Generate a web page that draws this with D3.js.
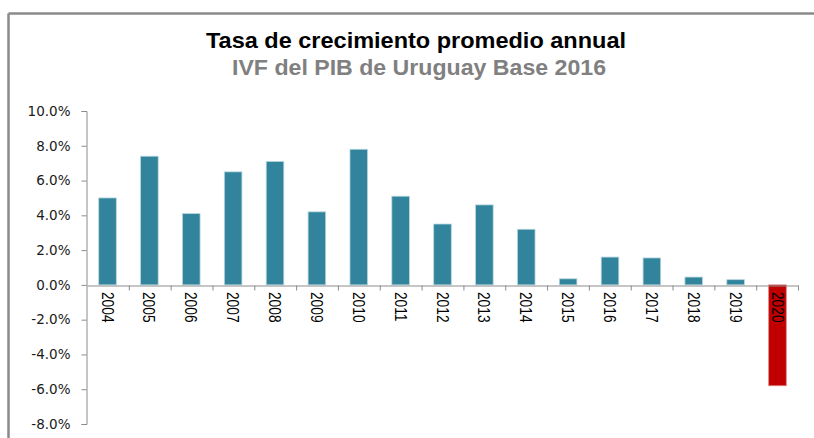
<!DOCTYPE html>
<html>
<head>
<meta charset="utf-8">
<script src="https://cdn.jsdelivr.net/npm/d3@7"></script>
<style>
  body { margin: 0; background: #fff; }
  .y-axis text { font-family: "DejaVu Sans", Verdana, sans-serif; font-size: 13.5px; fill: #1a1a1a; }
  .axis path, .axis line { stroke: #8c8c8c; }
  .year-label { font-family: "Liberation Sans", Arial, sans-serif; font-size: 15px; fill: #000; }
</style>
</head>
<body>
<div id="chart"></div>
<script>
// data
let years = ["2004","2005","2006","2007","2008","2009","2010","2011","2012",
             "2013","2014","2015","2016","2017","2018","2019","2020"];
let growth = [5.0, 7.4, 4.1, 6.5, 7.1, 4.2, 7.8, 5.1, 3.5,
              4.6, 3.2, 0.35, 1.6, 1.55, 0.45, 0.3, -5.8];
let yTicks = [-8, -6, -4, -2, 0, 2, 4, 6, 8, 10];
let title = "Tasa de crecimiento promedio annual";
let subtitle = "IVF del PIB de Uruguay Base 2016";

(function() {
  let width = 814, height = 438;
  // plot area
  let left = 87, right = 798, top = 111, bottom = 424;

  let svg = d3.select("#chart").append("svg")
      .attr("width", width)
      .attr("height", height);

  // outer frame (only top and left show)
  svg.append("line")
    .attr("x1", 8.5).attr("x2", width).attr("y1", 13.5).attr("y2", 13.5)
    .attr("stroke", "#8a8a8a").attr("stroke-width", 2.5);
  svg.append("line")
    .attr("x1", 8.5).attr("x2", 8.5).attr("y1", 13.5).attr("y2", height)
    .attr("stroke", "#8a8a8a").attr("stroke-width", 2.5);

  // titles
  svg.append("text")
    .attr("x", 416).attr("y", 48)
    .attr("text-anchor", "middle")
    .attr("textLength", 420).attr("lengthAdjust", "spacingAndGlyphs")
    .style("font-family", "'Liberation Sans', Arial, sans-serif")
    .style("font-weight", "bold").style("font-size", "22px")
    .attr("fill", "#000")
    .text(title);
  svg.append("text")
    .attr("x", 419).attr("y", 75)
    .attr("text-anchor", "middle")
    .attr("textLength", 374).attr("lengthAdjust", "spacingAndGlyphs")
    .style("font-family", "'Liberation Sans', Arial, sans-serif")
    .style("font-weight", "bold").style("font-size", "22px")
    .attr("fill", "#808080")
    .text(subtitle);

  let x = d3.scaleBand().domain(years).range([left, right])
      .paddingInner(0.58).paddingOuter(0.28);
  let y = d3.scaleLinear().domain([-8, 10]).range([bottom, top]);

  // y axis
  svg.append("g")
      .attr("class", "axis y-axis")
      .attr("transform", "translate(" + (left - 0.5) + ",0)")
      .call(d3.axisLeft(y).tickValues(yTicks).tickSize(5).tickSizeOuter(5)
        .tickPadding(11).tickFormat(d => d.toFixed(1) + "%"));

  // bars
  svg.selectAll(".bar")
    .data(years)
    .enter()
      .append("rect")
      .attr("class", "bar")
      .attr("x", d => x(d))
      .attr("width", x.bandwidth())
      .attr("y", (d, i) => y(Math.max(0, growth[i])))
      .attr("height", (d, i) => Math.abs(y(growth[i]) - y(0)))
      .attr("fill", (d, i) => growth[i] < 0 ? "#c00000" : "#31849b")
      .attr("stroke", (d, i) => growth[i] < 0 ? "#e08080" : "#b7d6df")
      .attr("stroke-width", 0.8);

  // x axis with ticks at category boundaries
  let xb = d3.scaleLinear().domain([0, years.length]).range([left, right]);
  svg.append("g")
      .attr("class", "axis x-axis")
      .attr("transform", "translate(0," + (Math.round(y(0)) + 0.5) + ")")
      .call(d3.axisBottom(xb).tickValues(d3.range(1, years.length + 1))
        .tickSize(5).tickSizeOuter(0).tickFormat(""));

  // rotated year labels
  svg.selectAll(".year-label")
    .data(years)
    .enter()
      .append("text")
      .attr("class", "year-label")
      .attr("transform", d => "translate(" + (x(d) + x.bandwidth() / 2) + "," + (y(0) + 7) + ") rotate(90) scale(0.92,1.12)")
      .attr("dy", "0.35em")
      .text(d => d);
})();
</script>
</body>
</html>
